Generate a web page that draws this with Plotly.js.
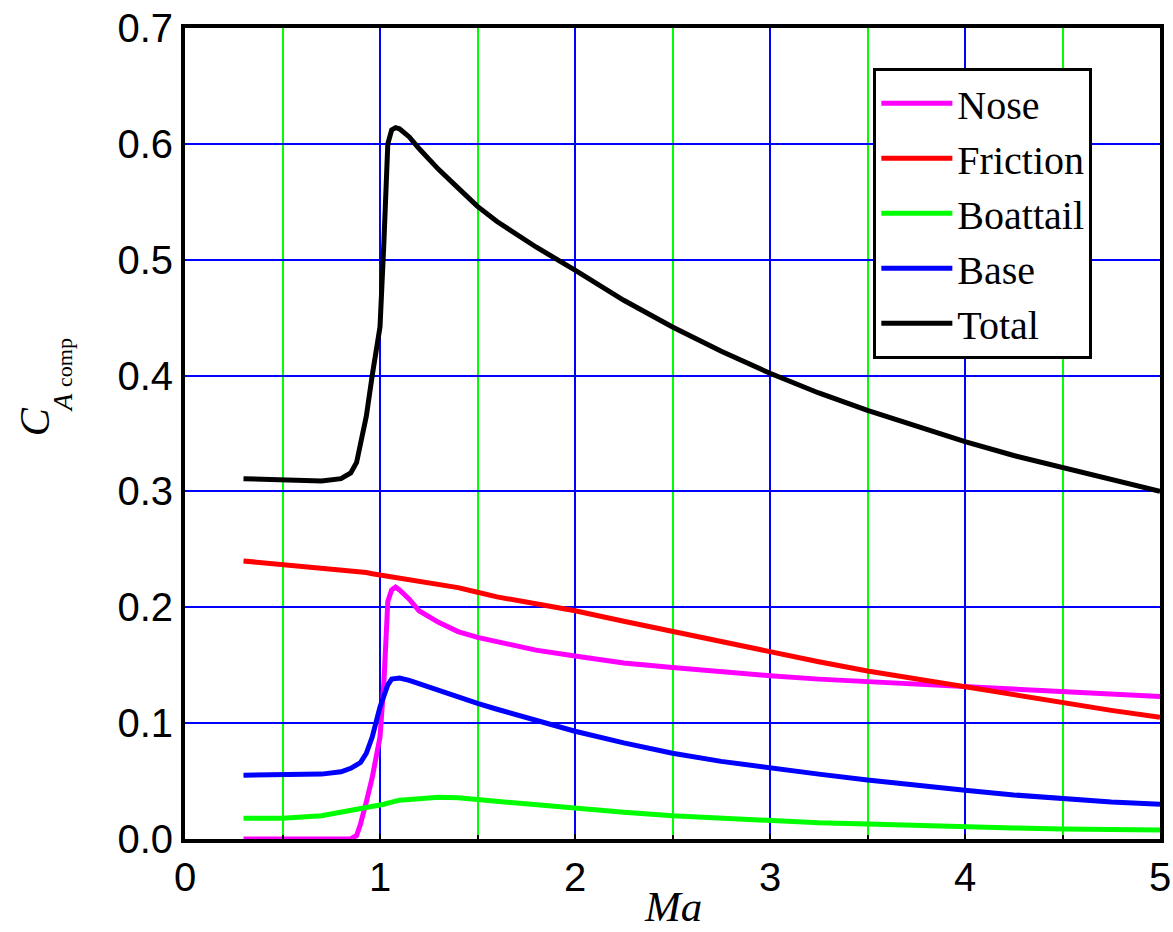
<!DOCTYPE html>
<html>
<head>
<meta charset="utf-8">
<script src="https://cdn.plot.ly/plotly-3.0.1.min.js"></script>
<style>html,body{margin:0;padding:0;background:#fff;}#chart{width:1173px;height:932px;}</style>
</head>
<body>
<div id="chart"></div>
<script>
const mach = [0.3, 0.5, 0.7, 0.8, 0.85, 0.88, 0.9, 0.93, 0.96, 1.0, 1.02, 1.04, 1.06, 1.08, 1.1, 1.15, 1.2, 1.3, 1.4, 1.5, 1.6, 1.8, 2.0, 2.25, 2.5, 2.75, 3.0, 3.25, 3.5, 3.75, 4.0, 4.25, 4.5, 4.75, 5.0];
const nose = [0, 0, 0, 0, 0, 0.003, 0.013, 0.032, 0.053, 0.088, 0.135, 0.205, 0.215, 0.2175, 0.215, 0.207, 0.197, 0.187, 0.179, 0.174, 0.170, 0.163, 0.158, 0.152, 0.148, 0.144, 0.141, 0.138, 0.136, 0.134, 0.131, 0.129, 0.127, 0.125, 0.123];
const friction = [0.240, 0.237, 0.234, 0.232, 0.231, 0.231, 0.230, 0.230, 0.229, 0.228, 0.227, 0.227, 0.226, 0.226, 0.225, 0.224, 0.222, 0.220, 0.217, 0.213, 0.209, 0.203, 0.197, 0.188, 0.179, 0.170, 0.161, 0.153, 0.145, 0.138, 0.131, 0.124, 0.118, 0.111, 0.105];
const boattail = [0.018, 0.018, 0.020, 0.023, 0.024, 0.025, 0.026, 0.027, 0.028, 0.029, 0.030, 0.031, 0.032, 0.033, 0.0335, 0.034, 0.035, 0.036, 0.0355, 0.034, 0.033, 0.029, 0.026, 0.023, 0.020, 0.018, 0.0155, 0.014, 0.013, 0.0115, 0.0105, 0.0095, 0.0086, 0.008, 0.0078];
const base = [0.055, 0.055, 0.056, 0.058, 0.061, 0.064, 0.066, 0.074, 0.088, 0.114, 0.125, 0.133, 0.138, 0.139, 0.139, 0.137, 0.134, 0.128, 0.122, 0.117, 0.112, 0.102, 0.093, 0.083, 0.074, 0.067, 0.061, 0.056, 0.051, 0.046, 0.042, 0.038, 0.0345, 0.032, 0.030];
const total = [0.311, 0.310, 0.309, 0.311, 0.316, 0.325, 0.340, 0.365, 0.400, 0.442, 0.515, 0.600, 0.612, 0.614, 0.613, 0.606, 0.596, 0.578, 0.562, 0.546, 0.533, 0.511, 0.491, 0.465, 0.442, 0.421, 0.402, 0.385, 0.370, 0.356, 0.343, 0.331, 0.321, 0.310, 0.300];

const seriesNames = ['Nose', 'Friction', 'Boattail', 'Base', 'Total'];
const seriesData = [nose, friction, boattail, base, total];
const seriesColors = ['#ff00ff', '#ff0000', '#00ff00', '#0000ff', '#000000'];

const traces = seriesNames.map((n, i) => ({
  x: mach, y: seriesData[i], name: n, type: 'scatter', mode: 'lines',
  line: {color: seriesColors[i], width: 5}
}));

const serif = 'Liberation Serif, Times New Roman, serif';
const sans = 'Liberation Sans, Arial, sans-serif';

const layout = {
  width: 1173, height: 932,
  margin: {l: 185, r: 13, t: 28, b: 93},
  paper_bgcolor: '#fff', plot_bgcolor: '#fff',
  showlegend: true,
  legend: {
    x: 0.706, y: 0.951, xanchor: 'left', yanchor: 'top',
    bgcolor: '#fff', bordercolor: '#000', borderwidth: 3,
    font: {family: serif, size: 40, color: '#000'},
    itemwidth: 71
  },
  xaxis: {
    range: [0, 5], dtick: 1, tick0: 0,
    showgrid: true, gridcolor: '#0000ff', gridwidth: 2,
    minor: {dtick: 0.5, showgrid: true, gridcolor: '#00ff00', gridwidth: 2, ticks: 'inside', ticklen: 4, tickcolor: '#000'},
    zeroline: false,
    showline: true, linecolor: '#000', linewidth: 4, mirror: true,
    ticks: 'inside', ticklen: 5, tickwidth: 2, tickcolor: '#000',
    tickfont: {family: sans, size: 40, color: '#000'}
  },
  yaxis: {
    range: [0, 0.7], dtick: 0.1, tick0: 0, tickformat: '.1f',
    showgrid: true, gridcolor: '#0000ff', gridwidth: 2,
    zeroline: false,
    showline: true, linecolor: '#000', linewidth: 4, mirror: true,
    ticks: '',
    tickfont: {family: sans, size: 40, color: '#000'}
  },
  annotations: [
    {text: '<i>Ma</i>', xref: 'paper', yref: 'paper', x: 0.5, y: -0.083, xanchor: 'center', yanchor: 'middle',
     showarrow: false, font: {family: serif, size: 43, color: '#000'}},
    {text: '<i>C</i>', xref: 'paper', yref: 'paper', x: -0.154, y: 0.515, xanchor: 'center', yanchor: 'middle',
     textangle: -90, showarrow: false, font: {family: serif, size: 42, color: '#000'}},
    {text: "<i>A</i> <span style='font-size:22px'>comp</span>", xref: 'paper', yref: 'paper', x: -0.125, y: 0.572, xanchor: 'center', yanchor: 'middle',
     textangle: -90, showarrow: false, font: {family: serif, size: 27, color: '#000'}}
  ]
};

Plotly.newPlot('chart', traces, layout, {displayModeBar: false, staticPlot: true});
</script>
</body>
</html>
